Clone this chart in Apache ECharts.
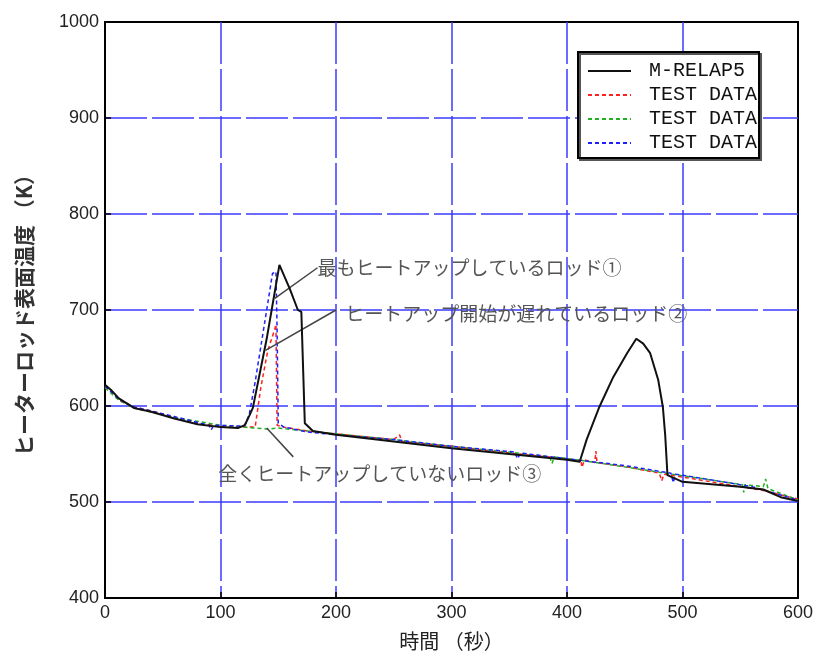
<!DOCTYPE html>
<html>
<head>
<meta charset="utf-8">
<script src="https://cdn.jsdelivr.net/npm/echarts@6/dist/echarts.min.js"></script>
<style>
  html, body { margin: 0; padding: 0; background: #fff; }
  #chart { width: 821px; height: 662px; }
</style>
</head>
<body>
<div id="chart"></div>
<script>
// M-RELAP5 calculation
const calcTime = [0, 5, 12, 25, 40, 60, 80, 100, 115, 121, 125, 128, 140, 151, 160, 167, 170, 173, 180, 200, 250, 300, 350, 400, 411, 417, 428, 440, 452, 460, 466, 472, 479, 483, 485, 487, 500, 530, 550, 570, 585, 600]
const calcTemp = [622, 617, 608, 598, 594, 587, 581, 578, 577, 580, 590, 598, 670, 747, 722, 700, 698, 582, 574, 570, 563, 556, 550, 544, 542, 565, 599, 630, 655, 670, 665, 655, 627, 599, 570, 528, 521, 518, 516, 513, 505, 501]

// TEST DATA (red) - rod 2
const redTime = [0, 5, 12, 25, 40, 60, 80, 100, 120, 130, 135, 141, 147, 148, 149, 155, 175, 200, 250, 255, 257, 300, 350, 400, 412, 413, 415, 424, 425, 426, 450, 480, 482, 484, 500, 530, 570, 600]
const redTemp = [620, 616, 606, 599, 595, 588, 582, 579, 578, 578, 620, 658, 680, 685, 580, 578, 574, 571, 565, 570, 563, 558, 551, 545, 543, 536, 544, 541, 553, 541, 537, 530, 522, 529, 526, 520, 512, 503]

// TEST DATA (green) - rod 3
const greenTime = [0, 12, 25, 60, 100, 120, 140, 150, 175, 200, 250, 300, 350, 385, 387, 389, 420, 480, 530, 552, 553, 554, 570, 572, 574, 600]
const greenTemp = [619, 606, 598, 588, 580, 578, 576, 577, 574, 571, 565, 558, 552, 547, 540, 547, 542, 531, 522, 518, 510, 518, 516, 524, 514, 502]

// TEST DATA (blue) - rod 1
const blueTime = [0, 12, 25, 60, 90, 92, 94, 120, 122, 125, 130, 140, 145, 148, 149, 150, 155, 175, 200, 250, 300, 355, 357, 360, 400, 450, 490, 492, 494, 530, 560, 600]
const blueTemp = [621, 607, 599, 589, 580, 575, 580, 579, 582, 592, 625, 700, 738, 740, 680, 582, 578, 573, 570, 565, 558, 552, 545, 551, 545, 538, 530, 520, 529, 522, 516, 502]

// annotations: [text, lineFrom, lineTo, textAnchor] in data units
const notes = [
    ['最もヒートアップしているロッド①', [147, 712], [184, 744], [184, 744]],
    ['ヒートアップ開始が遅れているロッド②', [139, 658], [200, 700], [208, 696]],
    ['全くヒートアップしていないロッド③', [140, 577], [163, 547], [98, 529]]
]

const zip = (a, b) => a.map((v, i) => [v, b[i]])

let myChart = echarts.init(document.getElementById('chart'))
let option = {
    animation: false,
    grid: {
        left: 105, right: 23, top: 22, bottom: 64,
        show: true, borderColor: '#000', borderWidth: 2
    },
    legend: {
        orient: 'vertical',
        left: 578, top: 52,
        borderColor: '#000', borderWidth: 2,
        shadowColor: '#555', shadowOffsetX: 2, shadowOffsetY: 2, shadowBlur: 0,
        backgroundColor: '#fff',
        padding: [9, 2, 5, 9],
        itemWidth: 43, itemHeight: 14, itemGap: 4,
        itemStyle: { opacity: 0 },
        textStyle: { fontFamily: 'Liberation Mono', fontSize: 20, color: '#111', padding: [0, 0, 0, 13] },
        formatter: n => n.replace(/ \d$/, '')
    },
    xAxis: {
        type: 'value', min: 0, max: 600, interval: 100,
        name: '時間 （秒）', nameLocation: 'middle', nameGap: 33,
        nameTextStyle: { fontFamily: 'Noto Sans CJK JP', fontSize: 20, color: '#222' },
        axisLine: { lineStyle: { color: '#000', width: 2 } },
        axisTick: { inside: true, length: 6, lineStyle: { color: '#000', width: 1.5 } },
        axisLabel: { fontFamily: 'Liberation Sans', fontSize: 18, color: '#222', margin: 6, formatter: v => String(v) },
        splitLine: { show: true, showMinLine: false, showMaxLine: false, lineStyle: { color: '#3b3bff', width: 1.5, type: [42, 5] } }
    },
    yAxis: {
        type: 'value', min: 400, max: 1000, interval: 100,
        name: 'ヒーターロッド表面温度 （K）', nameLocation: 'middle', nameGap: 70, nameRotate: 90,
        nameTextStyle: { fontFamily: 'Noto Sans CJK JP', fontSize: 21, fontWeight: 'bold', color: '#333' },
        axisLine: { lineStyle: { color: '#000', width: 2 } },
        axisTick: { inside: true, length: 6, lineStyle: { color: '#000', width: 1.5 } },
        axisLabel: { fontFamily: 'Liberation Sans', fontSize: 18, color: '#222', margin: 6, formatter: v => String(v) },
        splitLine: { show: true, showMinLine: false, showMaxLine: false, lineStyle: { color: '#3b3bff', width: 1.5, type: [42, 5] } }
    },
    series: [
        {
            name: 'M-RELAP5', type: 'line', data: zip(calcTime, calcTemp), showSymbol: false, symbol: 'none', z: 5,
            lineStyle: { color: '#111', width: 2 }, itemStyle: { color: '#111' },
            markLine: {
                silent: true, symbol: 'none', label: { show: false },
                lineStyle: { color: '#444', width: 1.5, type: 'solid' },
                data: notes.map(n => [{ coord: n[1] }, { coord: n[2] }])
            }
        },
        {
            name: 'TEST DATA 1', type: 'line', data: zip(redTime, redTemp), showSymbol: false, symbol: 'none',
            lineStyle: { color: '#ff2020', width: 1.5, type: [4, 3] }, itemStyle: { color: '#ff2020' }
        },
        {
            name: 'TEST DATA 2', type: 'line', data: zip(greenTime, greenTemp), showSymbol: false, symbol: 'none',
            lineStyle: { color: '#20b020', width: 1.5, type: [4, 3] }, itemStyle: { color: '#20b020' }
        },
        {
            name: 'TEST DATA 3', type: 'line', data: zip(blueTime, blueTemp), showSymbol: false, symbol: 'none',
            lineStyle: { color: '#2020ff', width: 1.5, type: [4, 3] }, itemStyle: { color: '#2020ff' }
        }
    ]
}
myChart.setOption(option)

// annotation texts placed from data coordinates
myChart.setOption({
    graphic: notes.map(n => {
        const p = myChart.convertToPixel({ gridIndex: 0 }, n[3])
        return {
            type: 'text', x: p[0], y: p[1], z: 10,
            style: { text: n[0], fontFamily: 'Noto Sans CJK JP', fontSize: 19, fill: '#555', verticalAlign: 'middle', align: 'left' }
        }
    })
})
</script>
</body>
</html>
